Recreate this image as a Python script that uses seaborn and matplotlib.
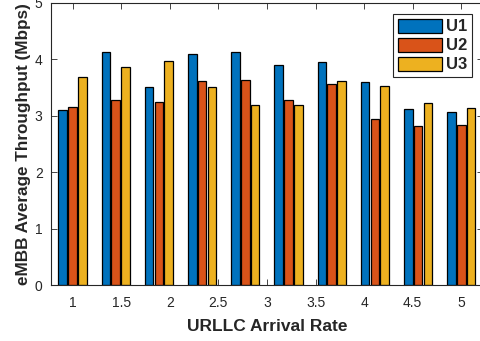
import matplotlib
matplotlib.use("Agg")
import matplotlib.pyplot as plt
import seaborn as sns
import pandas as pd

# URLLC arrival rates (group positions) and per-user eMBB throughput in Mbps
arrival_rate = [1.0, 1.4444, 1.8889, 2.3333, 2.7778, 3.2222, 3.6667, 4.1111, 4.5556, 5.0]
u1 = [3.10, 4.13, 3.50, 4.09, 4.12, 3.89, 3.95, 3.59, 3.12, 3.06]
u2 = [3.16, 3.27, 3.24, 3.62, 3.63, 3.27, 3.56, 2.94, 2.81, 2.83]
u3 = [3.68, 3.86, 3.96, 3.50, 3.19, 3.19, 3.61, 3.53, 3.23, 3.13]
users = ["U1", "U2", "U3"]
x_ticks = [1, 1.5, 2, 2.5, 3, 3.5, 4, 4.5, 5]
y_ticks = [0, 1, 2, 3, 4, 5]
colors = ["#0072BD", "#D95319", "#EDB120"]

df = pd.DataFrame({
    "rate": arrival_rate * 3,
    "throughput": u1 + u2 + u3,
    "user": [u for u in users for _ in arrival_rate],
})

sns.set_style("ticks")
plt.rcParams["font.family"] = ["Liberation Sans", "DejaVu Sans"]
text_color = "#262626"

fig = plt.figure(figsize=(4.81, 3.41), dpi=100)
ax = fig.add_axes([0.106, 0.164, 0.898, 0.828])

sns.barplot(
    data=df, x="rate", y="throughput", hue="user", native_scale=True,
    palette=colors, saturation=1, width=0.68, gap=0.12, edgecolor="black",
    linewidth=0.9, errorbar=None, ax=ax,
)

ax.set_xlim(0.778, 5.222)
ax.set_ylim(0, 5)
ax.set_xticks(x_ticks)
ax.set_xticklabels([f"{t:g}" for t in x_ticks])
ax.set_yticks(y_ticks)

ax.tick_params(direction="in", length=4, width=0.6, labelsize=10,
               colors=text_color, top=True, right=True, pad=6)
ax.tick_params(axis="x", pad=8)
for s in ax.spines.values():
    s.set_visible(True)
    s.set_color(text_color)
    s.set_linewidth(0.8)

ax.set_xlabel("URLLC Arrival Rate", fontsize=12.5, fontweight="bold", color=text_color, labelpad=6)
ax.set_ylabel("eMBB Average Throughput (Mbps)", fontsize=12.3, fontweight="bold", color=text_color, labelpad=3)

leg = ax.legend(
    loc="upper right", bbox_to_anchor=(1.0, 1.0), fancybox=False, frameon=True,
    edgecolor=text_color, framealpha=1, prop={"weight": "bold", "size": 12},
    handlelength=2.65, handleheight=0.9, labelspacing=0.2, handletextpad=0.2,
    borderpad=0.3, borderaxespad=0.66, title=None,
)
leg.get_frame().set_linewidth(0.8)

fig.savefig("out.png", dpi=100)
